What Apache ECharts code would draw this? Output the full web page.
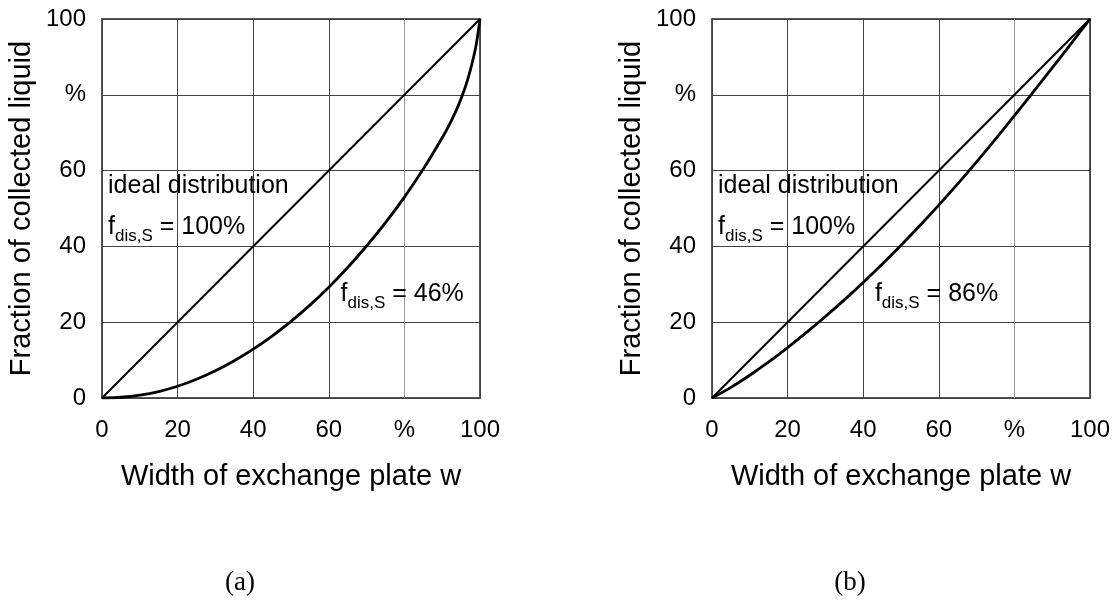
<!DOCTYPE html>
<html>
<head>
<meta charset="utf-8">
<script src="https://cdn.jsdelivr.net/npm/echarts@6/dist/echarts.min.js"></script>
<style>
  html, body { margin: 0; padding: 0; background: #fff; }
  #chart { width: 1119px; height: 600px; }
</style>
</head>
<body>
<div id="chart"></div>
<script>
// Axis tick labels (the 80 position carries the unit)
const tickLabels = ['0', '20', '40', '60', '%', '100'];

// Ideal distribution: straight diagonal
const idealW = [0, 100];
const idealF = [0, 100];

// (a) f_dis,S = 46 %
const widthA = [0, 5, 10, 15, 20, 25, 30, 35, 40, 45, 50, 55, 60, 65, 70, 75, 80, 85, 90, 92, 94, 96, 97, 98, 99, 100];
const fracA  = [0, 0.2, 0.75, 1.7, 3.1, 4.95, 7.2, 9.85, 12.9, 16.35, 20.2, 24.5, 29.25, 34.45, 40.1, 46.25, 53.0, 60.4, 68.65, 72.35, 76.55, 81.75, 84.95, 88.65, 93.25, 100];

// (b) f_dis,S = 86 %
const widthB = [0, 5, 10, 15, 20, 25, 30, 35, 40, 45, 50, 55, 60, 65, 70, 75, 80, 85, 90, 95, 100];
const fracB  = [0, 2.8, 6.0, 9.5, 13.3, 17.3, 21.5, 25.9, 30.5, 35.3, 40.3, 45.5, 50.9, 56.5, 62.3, 68.3, 74.5, 80.75, 87.1, 93.5, 100];

const FONT = '"Liberation Sans", Arial, Helvetica, sans-serif';
const pairs = (xs, ys) => xs.map((x, i) => [x, ys[i]]);

const richStyles = {
  m: { fontSize: 25, fontFamily: FONT, color: '#000' },
  s: { fontSize: 17, fontFamily: FONT, color: '#000', padding: [18, 0, 0, 0] }
};
const fLabel = pct => '{m|f}{s|dis,S}{m| = ' + pct + '%}';

function makeXAxis(gridIndex) {
  return {
    gridIndex, type: 'value', min: 0, max: 100, interval: 20,
    name: 'Width of exchange plate w', nameLocation: 'middle', nameGap: 64,
    nameTextStyle: { fontSize: 29, fontFamily: FONT, color: '#000' },
    axisLine: { show: false }, axisTick: { show: false },
    axisLabel: { fontSize: 24, fontFamily: FONT, color: '#000', margin: 20,
      formatter: v => tickLabels[Math.round(v / 20)] },
    splitLine: { show: true, lineStyle: { width: 1, color: ['#444', '#444', '#444', '#444', '#9a9a9a', '#444'] } }
  };
}
function makeYAxis(gridIndex) {
  return {
    gridIndex, type: 'value', min: 0, max: 100, interval: 20,
    name: 'Fraction of collected liquid', nameLocation: 'middle', nameGap: 66,
    nameTextStyle: { fontSize: 29, fontFamily: FONT, color: '#000' },
    axisLine: { show: false }, axisTick: { show: false },
    axisLabel: { fontSize: 24, fontFamily: FONT, color: '#000', margin: 16,
      formatter: v => tickLabels[Math.round(v / 20)] },
    splitLine: { show: true, lineStyle: { width: 1, color: '#444' } }
  };
}
function curve(idx, xs, ys, width) {
  return {
    type: 'line', xAxisIndex: idx, yAxisIndex: idx, data: pairs(xs, ys),
    showSymbol: false, smooth: 0.3, silent: true,
    lineStyle: { color: '#000', width }, z: 5
  };
}
function notes(idx, items) {
  return {
    type: 'scatter', xAxisIndex: idx, yAxisIndex: idx, symbolSize: 0, silent: true, z: 6,
    itemStyle: { opacity: 1, color: '#000' },
    data: items.map(it => ({
      value: it.at,
      label: { show: true, position: 'right', distance: 0, formatter: it.text, rich: richStyles,
               fontSize: 25, fontFamily: FONT, color: '#000', opacity: 1 }
    }))
  };
}

const chart = echarts.init(document.getElementById('chart'), null, { renderer: 'canvas' });
chart.setOption({
  backgroundColor: '#fff',
  animation: false,
  grid: [
    { left: 102, top: 19, width: 378, height: 379, show: true, borderColor: '#555', borderWidth: 2, backgroundColor: 'transparent' },
    { left: 712, top: 19, width: 378, height: 379, show: true, borderColor: '#555', borderWidth: 2, backgroundColor: 'transparent' }
  ],
  xAxis: [makeXAxis(0), makeXAxis(1)],
  yAxis: [makeYAxis(0), makeYAxis(1)],
  series: [
    curve(0, idealW, idealF, 2),
    curve(0, widthA, fracA, 2.8),
    curve(1, idealW, idealF, 2),
    curve(1, widthB, fracB, 2.8),
    notes(0, [
      { at: [1.6, 55.8], text: '{m|ideal distribution}' },
      { at: [1.6, 45.0], text: fLabel(100) },
      { at: [63.1, 27.4], text: fLabel(46) }
    ]),
    notes(1, [
      { at: [1.6, 55.8], text: '{m|ideal distribution}' },
      { at: [1.6, 45.0], text: fLabel(100) },
      { at: [43.1, 27.4], text: fLabel(86) }
    ])
  ],
  graphic: [
    { type: 'text', x: 240, y: 583, style: { text: '(a)', font: '27px "Liberation Serif", "DejaVu Serif", serif', fill: '#000', textAlign: 'center', textVerticalAlign: 'middle' } },
    { type: 'text', x: 850, y: 583, style: { text: '(b)', font: '27px "Liberation Serif", "DejaVu Serif", serif', fill: '#000', textAlign: 'center', textVerticalAlign: 'middle' } }
  ]
});
</script>
</body>
</html>
